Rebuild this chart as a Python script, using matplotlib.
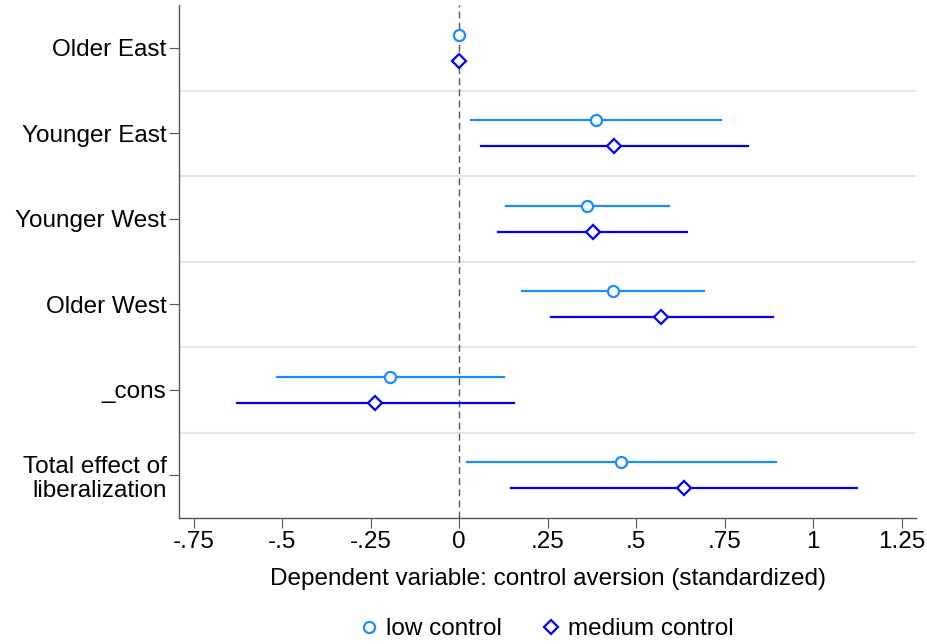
import matplotlib
matplotlib.use("Agg")
import matplotlib.pyplot as plt
from matplotlib.lines import Line2D

plt.rcParams['font.family'] = ['Liberation Sans', 'DejaVu Sans']

categories = ["Older East", "Younger East", "Younger West", "Older West", "_cons",
              "Total effect of\nliberalization"]

low_est = [0.0, 0.387, 0.362, 0.435, -0.195, 0.458]
low_lo = [None, 0.034, 0.133, 0.178, -0.514, 0.023]
low_hi = [None, 0.740, 0.593, 0.692, 0.127, 0.895]

med_est = [0.0, 0.438, 0.379, 0.571, -0.237, 0.636]
med_lo = [None, 0.062, 0.110, 0.260, -0.627, 0.147]
med_hi = [None, 0.816, 0.644, 0.887, 0.155, 1.124]

xticks = [-0.75, -0.5, -0.25, 0, 0.25, 0.5, 0.75, 1, 1.25]
xticklabels = ["-.75", "-.5", "-.25", "0", ".25", ".5", ".75", "1", "1.25"]

c_low = "#1A8CFF"
c_med = "#0000EE"
FS = 17.5

fig = plt.figure(figsize=(9.27, 6.44), dpi=100)
ax = fig.add_axes([179/927, 1-518/644, (916-179)/927, (518-5)/644])

n = len(categories)
ys = list(range(1, n+1))
off = 0.15

for i, y in enumerate(ys):
    if low_lo[i] is not None:
        ax.plot([low_lo[i], low_hi[i]], [y - off]*2, color=c_low, lw=1.6, zorder=2)
    ax.plot(low_est[i], y - off, marker='o', ms=8, mfc='white', mec=c_low, mew=1.6,
            ls='none', zorder=4)
    if med_lo[i] is not None:
        ax.plot([med_lo[i], med_hi[i]], [y + off]*2, color=c_med, lw=1.6, zorder=2)
    ax.plot(med_est[i], y + off, marker='D', ms=7.5, mfc='white', mec=c_med, mew=1.6,
            ls='none', zorder=4)

for b in range(1, n):
    ax.axhline(b + 0.5, color="#E6E6E6", lw=1.5, zorder=0)

ax.axvline(0, color="#555555", lw=1.0, ls=(0, (5, 3)), zorder=1)

ax.set_ylim(n + 0.5, 0.5)
ax.set_xlim((179-459)/354, (916-459)/354)
ax.set_yticks(ys)
ax.set_yticklabels(categories, fontsize=FS, ha='right', multialignment='right',
                   linespacing=1.15)
ax.set_xticks(xticks)
ax.set_xticklabels(xticklabels, fontsize=FS)
ax.set_xlabel("Dependent variable: control aversion (standardized)", fontsize=FS, labelpad=11)

for s in ['top', 'right']:
    ax.spines[s].set_visible(False)
for s in ['left', 'bottom']:
    ax.spines[s].set_color("#555555")
    ax.spines[s].set_linewidth(1.0)
ax.tick_params(axis='y', length=7, color="#555555", pad=2)
ax.tick_params(axis='x', length=7, color="#555555", pad=2)

handles = [Line2D([], [], marker='o', ls='none', ms=8, mfc='white', mec=c_low, mew=1.6),
           Line2D([], [], marker='D', ls='none', ms=7.5, mfc='white', mec=c_med, mew=1.6)]
fig.legend(handles, ["low control", "medium control"], loc='center',
           bbox_to_anchor=(545/927, 1-629/644), ncol=2, frameon=False, fontsize=FS,
           handletextpad=0.2, columnspacing=1.5, handlelength=1.0)

fig.savefig("out.png", dpi=100)
